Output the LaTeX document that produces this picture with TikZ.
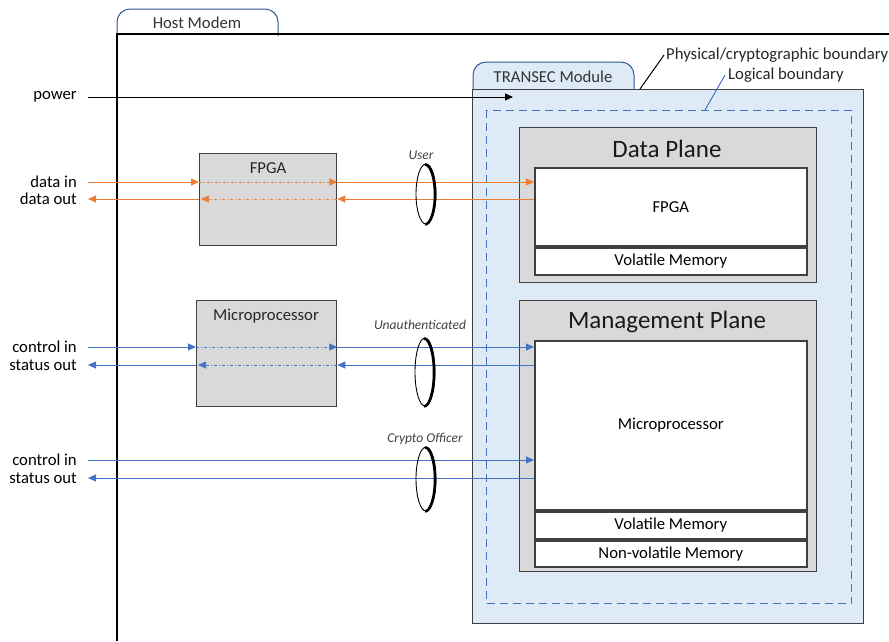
\documentclass[tikz,border=0pt]{standalone}
\usepackage{fontspec}
\setmainfont{Carlito}
\usetikzlibrary{arrows.meta,shapes.geometric}
\definecolor{cOrange}{HTML}{ED7D31}
\definecolor{cBlue}{HTML}{4472C4}
\definecolor{cLight}{HTML}{DEEBF7}
\definecolor{cGray}{HTML}{D9D9D9}
\definecolor{cDark}{HTML}{404040}
\definecolor{cTab}{HTML}{2F5597}
\tikzset{
  lbl/.style={font=\fontsize{16.7}{19}\selectfont, inner sep=0pt},
  ttl/.style={font=\fontsize{25}{29}\selectfont, inner sep=0pt},
  role/.style={font=\fontsize{13.5}{15}\selectfont\itshape, inner sep=0pt, text=cDark},
  graybox/.style={draw=cDark, line width=1.3pt, fill=cGray, anchor=north west, inner sep=0pt},
  whitebox/.style={draw=cDark, line width=1.6pt, fill=white, anchor=north west, inner sep=0pt, font=\fontsize{16.7}{19}\selectfont},
  tip/.style={-{Triangle[length=8pt,width=7pt]}},
  oline/.style={cOrange, line width=0.9pt},
  bline/.style={cBlue, line width=0.9pt},
  dd/.style={dash pattern=on 3pt off 2pt on 1pt off 2pt, line width=0.7pt},
  ring/.style={draw=black, line width=0.9pt, ellipse, inner sep=0pt, minimum width=20pt, minimum height=60pt},
}
\begin{document}
\begin{tikzpicture}[x=1pt,y=-1pt]
\useasboundingbox (0,0) rectangle (889,641);
% Host Modem
\draw[cTab, line width=1pt, fill=white, rounded corners=13pt] (117,36) -- (117,9) -- (278,9) -- (278,36);
\node[lbl, text=black!80] (hostlbl) at (197,23) {Host Modem};
\draw[black, line width=1.1pt] (889,34) -- (117,34) -- (117,641);
% TRANSEC Module
\draw[cTab, line width=1pt, fill=cLight, rounded corners=13pt] (473,91) -- (473,62) -- (634,62) -- (634,91);
\node[lbl, text=black!80] (translbl) at (553,77) {TRANSEC Module};
\node[draw=cDark, line width=1.3pt, fill=cLight, anchor=north west, inner sep=0pt, minimum width=391pt, minimum height=534pt] (transec) at (472,89) {};
\node[draw=cBlue, dashed, dash pattern=on 8pt off 5pt, line width=1.1pt, anchor=north west, inner sep=0pt, minimum width=365pt, minimum height=493pt] (logic) at (486,110) {};
% Boundary labels
\node[lbl, anchor=west, text=black!85] (physlbl) at (666,55) {Physical/cryptographic boundary};
\node[lbl, anchor=west, text=black!85] (loglbl) at (728,75) {Logical boundary};
\coordinate (physpt) at (640,89);
\coordinate (logpt) at (705,110);
\draw[black, line width=1pt] (physpt) -- ([xshift=-2pt]physlbl.west);
\draw[cBlue, line width=1pt] (logpt) -- ([xshift=-3pt]loglbl.west);
% Data Plane
\node[graybox, minimum width=297pt, minimum height=155pt] (dp) at (519,127) {};
\node[ttl, text=black!90] (dptitle) at (667,149) {Data Plane};
\node[whitebox, minimum width=272pt, minimum height=78pt] (dfpga) at (534,167) {FPGA};
\node[whitebox, minimum width=272pt, minimum height=27pt] (dvol) at (534,247) {Volatile Memory};
% Management Plane
\node[graybox, minimum width=297pt, minimum height=271pt] (mp) at (519,300) {};
\node[ttl, text=black!90] (mptitle) at (667,322) {Management Plane};
\node[whitebox, minimum width=272pt, minimum height=169pt] (mproc) at (534,340) {Microprocessor};
\node[whitebox, minimum width=272pt, minimum height=27pt] (mvol) at (534,511) {Volatile Memory};
\node[whitebox, minimum width=272pt, minimum height=26pt] (mnv) at (534,540) {Non-volatile Memory};
% Host-side boxes
\node[graybox, minimum width=137pt, minimum height=92pt] (hfpga) at (199,153) {};
\node[lbl, text=black!85] (hfpgalbl) at (268,168) {FPGA};
\node[graybox, minimum width=140pt, minimum height=106pt] (hmp) at (196,300) {};
\node[lbl, text=black!85] (hmplbl) at (266,316) {Microprocessor};
% Left labels
\node[lbl, anchor=east] (power) at (77,97) {power};
\node[lbl, anchor=east] (din) at (77,182) {data in};
\node[lbl, anchor=east] (dout) at (77,199) {data out};
\node[lbl, anchor=east] (cin1) at (77,347) {control in};
\node[lbl, anchor=east] (sout1) at (77,365) {status out};
\node[lbl, anchor=east] (cin2) at (77,460) {control in};
\node[lbl, anchor=east] (sout2) at (77,478) {status out};
% coordinates for line starts
\coordinate (pwrA) at (88,97);
\coordinate (pwrB) at (513,97);
\coordinate (dinA) at (88,182);
\coordinate (doutA) at (88,199);
\coordinate (cin1A) at (88,347);
\coordinate (sout1A) at (88,365);
\coordinate (cin2A) at (88,460);
\coordinate (sout2A) at (88,478);
% power
\draw[black, line width=1pt, tip] (pwrA) -- (pwrB);
% data in / out
\draw[oline, tip] (dinA) -- (dinA -| hfpga.west);
\draw[oline, dd, tip] (dinA -| hfpga.west) -- (dinA -| hfpga.east);
\draw[oline, tip] (dinA -| hfpga.east) -- (dinA -| dfpga.west);
\draw[oline, tip] (doutA -| dfpga.west) -- (doutA -| hfpga.east);
\draw[oline, dd, tip] (doutA -| hfpga.east) -- ([xshift=2pt]doutA -| hfpga.west);
\draw[oline, tip] (doutA -| hfpga.west) -- (doutA);
% control / status 1
\draw[bline, tip] (cin1A) -- (cin1A -| hmp.west);
\draw[bline, dd, tip] (cin1A -| hmp.west) -- (cin1A -| hmp.east);
\draw[bline, tip] (cin1A -| hmp.east) -- (cin1A -| mproc.west);
\draw[bline, tip] (sout1A -| mproc.west) -- (sout1A -| hmp.east);
\draw[bline, dd, tip] (sout1A -| hmp.east) -- ([xshift=2pt]sout1A -| hmp.west);
\draw[bline, tip] (sout1A -| hmp.west) -- (sout1A);
% control / status 2
\draw[bline, tip] (cin2A) -- (cin2A -| mproc.west);
\draw[bline, tip] (sout2A -| mproc.west) -- (sout2A);
% rings
\node[ring] (ruser) at (426,194) {};
\node[ring, minimum height=68pt] (runauth) at (425,372) {};
\node[ring, minimum height=64pt] (rco) at (426,479) {};
\draw[line width=2.6pt] ([xshift=-1pt]ruser.south) arc[start angle=-90, end angle=90, x radius=10pt, y radius=30pt];
\draw[line width=2.6pt] ([xshift=-1pt]runauth.south) arc[start angle=-90, end angle=90, x radius=10pt, y radius=34pt];
\draw[line width=2.6pt] ([xshift=-1pt]rco.south) arc[start angle=-90, end angle=90, x radius=10pt, y radius=32pt];
\node[role] (userlbl) at (421,155) {User};
\node[role] (unauthlbl) at (420,325) {Unauthenticated};
\node[role] (colbl) at (425,439) {Crypto Officer};
\end{tikzpicture}
\end{document}
